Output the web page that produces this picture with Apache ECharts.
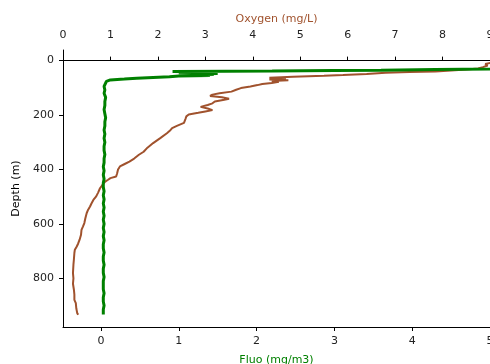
<!DOCTYPE html>
<html><head><meta charset="utf-8">
<script src="https://cdn.jsdelivr.net/npm/echarts@6/dist/echarts.min.js"></script>
<style>html,body{margin:0;padding:0;background:#fff}#c{width:490px;height:364px}</style>
</head><body><div id="c"></div>
<script>
// Oxygen profile (depth m, oxygen mg/L)
var oxyDepth = [7,12,18,24,29,33,37,40,42,45,49,53,56,59,61,63,66,69,72,75,78,82,86,90,95,101,107,114,120,125,130,135,140,144,150,157,163,170,176,182,187,192,198,205,215,229,240,248,258,267,285,303,320,335,346,360,371,380,389,400,415,426,432,438,445,455,469,485,499,512,525,536,548,560,580,597,610,622,640,658,672,683,695,707,730,750,781,800,820,842,860,879,891,910,928,934];
var oxyValue = [9.05,8.9,8.95,8.85,8.75,8.5,8.1,7.85,7.3,6.8,6.4,5.9,5.5,4.85,4.6,4.35,4.7,4.35,4.75,4.4,4.55,4.4,4.2,4.1,3.95,3.75,3.65,3.55,3.3,3.15,3.1,3.35,3.5,3.4,3.2,3.15,3.05,2.9,3.05,3.15,3.0,2.85,2.65,2.6,2.58,2.55,2.4,2.3,2.25,2.19,2.05,1.9,1.78,1.7,1.6,1.5,1.4,1.3,1.2,1.16,1.14,1.12,1.0,0.95,0.89,0.84,0.78,0.74,0.7,0.64,0.6,0.57,0.53,0.5,0.47,0.45,0.42,0.39,0.38,0.35,0.32,0.29,0.25,0.24,0.23,0.22,0.21,0.22,0.21,0.23,0.24,0.24,0.27,0.28,0.3,0.32];
// Fluorescence profile (depth m, fluo mg/m3)
var fluoDepth = [7,14,20,26,31,33,35,36,37,38,39,40,41,43,45,47,49,51,53,55,57,59,62,65,68,71,76,83,95,108,120,135,150,165,180,195,210,225,240,255,270,285,300,315,330,345,360,375,390,405,420,435,450,465,480,495,510,525,540,555,570,585,600,615,630,645,660,675,690,705,720,735,750,765,780,795,810,825,840,855,870,885,900,915,933];
var fluoValue = [5.6,5.9,5.7,5.4,5.0,4.3,3.6,3.0,2.6,2.2,1.6,0.92,1.2,1.45,1.0,1.5,1.2,1.45,1.1,1.4,1.0,0.88,0.67,0.46,0.3,0.12,0.07,0.05,0.04,0.05,0.04,0.06,0.05,0.05,0.04,0.05,0.06,0.05,0.05,0.04,0.05,0.04,0.05,0.04,0.04,0.05,0.04,0.04,0.03,0.04,0.03,0.04,0.03,0.03,0.04,0.03,0.04,0.03,0.04,0.03,0.04,0.03,0.04,0.03,0.04,0.03,0.04,0.03,0.03,0.04,0.03,0.03,0.04,0.03,0.03,0.04,0.03,0.03,0.03,0.04,0.03,0.03,0.04,0.03,0.03];
var oxyTicks = [0,1,2,3,4,5,6,7,8,9];
var fluoTicks = [0,1,2,3,4,5];
var depthTicks = [0,200,400,600,800];

function pairs(xs, ys){ return xs.map(function(x,i){ return [x, ys[i]]; }); }

var font = 'DejaVu Sans';
var lbl = {color:'#222', fontSize:11, fontFamily:font};
var chart = echarts.init(document.getElementById('c'), null, {renderer:'canvas'});
chart.setOption({
  animation:false,
  grid:{left:63, right:0, top:50, bottom:37, outerBoundsMode:'none', containLabel:false},
  xAxis:[{
    type:'value', position:'top', min:0, max:9, interval:1,
    name:'Oxygen (mg/L)', nameLocation:'middle', nameGap:25,
    nameTextStyle:{color:'#a0522d', fontSize:11, fontFamily:font},
    axisLine:{show:true, lineStyle:{color:'#000', width:1}},
    axisTick:{show:true, length:4, lineStyle:{color:'#000'}},
    axisLabel:Object.assign({margin:9, showMaxLabel:true, showMinLabel:true}, lbl),
    splitLine:{show:false}
  },{
    type:'value', position:'bottom', min:-0.488, max:5,
    name:'Fluo (mg/m3)', nameLocation:'middle', nameGap:28,
    nameTextStyle:{color:'#008000', fontSize:11, fontFamily:font},
    axisLine:{show:true, onZero:false, lineStyle:{color:'#000', width:1}},
    axisTick:{show:true, length:4, customValues:fluoTicks, lineStyle:{color:'#000'}},
    axisLabel:Object.assign({margin:9, customValues:fluoTicks}, lbl),
    splitLine:{show:false}
  }],
  yAxis:{
    type:'value', inverse:true, min:-39, max:979,
    name:'Depth (m)', nameLocation:'middle', nameGap:41,
    nameTextStyle:{color:'#000', fontSize:11, fontFamily:font},
    axisLine:{show:true, onZero:false, lineStyle:{color:'#000', width:1}},
    axisTick:{show:true, length:4, customValues:depthTicks, lineStyle:{color:'#000'}},
    axisLabel:Object.assign({margin:9, customValues:depthTicks}, lbl),
    splitLine:{show:false}
  },
  series:[{
    type:'line', xAxisIndex:0, yAxisIndex:0, data:pairs(oxyValue, oxyDepth),
    symbol:'none', lineStyle:{color:'#a0522d', width:2}, z:2
  },{
    type:'line', xAxisIndex:1, yAxisIndex:0, data:pairs(fluoValue, fluoDepth),
    symbol:'none', lineStyle:{color:'#008000', width:3}, z:3
  }]
});
</script></body></html>
